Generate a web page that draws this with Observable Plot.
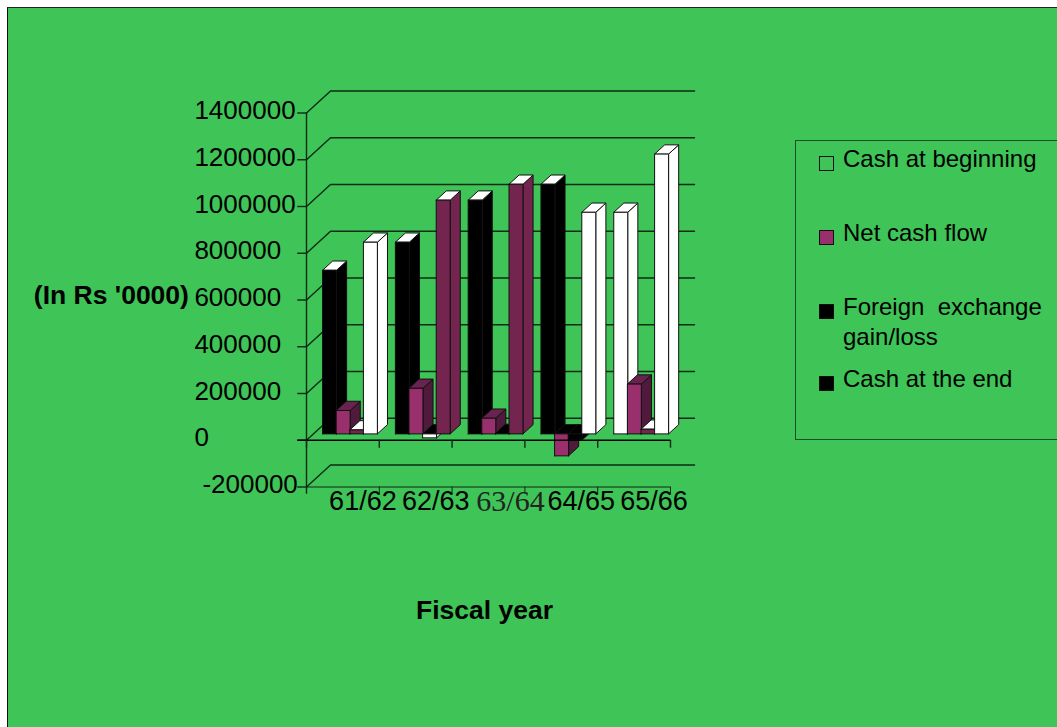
<!DOCTYPE html>
<html>
<head>
<meta charset="utf-8">
<script src="https://cdn.jsdelivr.net/npm/d3@7"></script>
<script src="https://cdn.jsdelivr.net/npm/@observablehq/plot@0.6"></script>
<style>
  html, body { margin: 0; padding: 0; background: #fff; width: 1057px; height: 727px; overflow: hidden; }
  #panel { position: absolute; left: 7px; top: 7px; right: 0; bottom: 0; background: #3ec457;
           border-left: 1.5px solid #111; border-top: 1.5px solid #222; }
  #chart { position: absolute; left: 0; top: 0; }
  #legend { position: absolute; left: 795px; top: 140px; width: 270px; height: 298px;
            border: 1px solid #1d4a28; font: 24px "Liberation Sans", Arial, sans-serif; color: #000; }
  #legend .entry { position: absolute; left: 47px; white-space: pre; line-height: 30px; }
  #legend .swatch { position: absolute; left: 23px; width: 15px; height: 15px; box-sizing: border-box; border: 1px solid #111; }
</style>
</head>
<body>
<div id="panel"></div>
<div id="chart"></div>
<div id="legend"></div>
<script>
// Fiscal years and cash-flow statement rows, in Rs '0000
const years = ["61/62", "62/63", "63/64", "64/65", "65/66"];
const cashBeginning = [700000, 820000, 1000000, 1068000, 948000];
const netCashFlow = [100000, 195000, 67000, -94000, 213000];
const foreignExchange = [17000, -17000, 2000, -26000, 20000];
const cashEnd = [820000, 1000000, 1068000, 948000, 1197000];
const yTicks = [-200000, 0, 200000, 400000, 600000, 800000, 1000000, 1200000, 1400000];

const legendLabels = ["Cash at beginning", "Net cash flow", "Foreign  exchange\ngain/loss", "Cash at the end"];

// Per-point face colours for each series
const K = "#000000", W = "#ffffff", M = "#99306d", D = "#73254f", S = "#4f1a3b", T = "#6a2250";
const frontColors = [[K, K, K, K, W], [M, M, M, M, M], [D, W, K, K, D], [W, D, D, W, W]];
const topColors = [[W, W, W, W, W], [T, T, T, K, T], [W, K, K, K, W], [W, W, W, W, W]];
const sideColors = [[K, K, K, K, W], [S, S, S, S, S], [D, W, K, K, D], [W, D, D, W, W]];
const series = [cashBeginning, netCashFlow, foreignExchange, cashEnd];

// Oblique projection: depth runs from 0 (front wall) to 1 (back wall)
const depthX = 0.33;
const depthY = 94000;
const project = (cat, value, depth) => ({x: cat + depth * depthX, y: value + depth * depthY});

const barStart = 0.125;
const barWidth = 0.192;
const barPitch = 0.187;
const barDepthFront = 0.29;
const barDepthBack = 0.71;

const facePoints = [];
let faceId = 0;
function addFace(corners, fill) {
  const id = faceId++;
  for (const c of [...corners, corners[0]]) facePoints.push({...c, id, fill});
}

// Painter's order: left to right, so nearer neighbours overlap correctly
years.forEach((_, g) => {
  series.forEach((values, s) => {
    const x0 = g + barStart + s * barPitch;
    const x1 = x0 + barWidth;
    const hi = Math.max(values[g], 0);
    const lo = Math.min(values[g], 0);
    addFace([project(x1, lo, barDepthFront), project(x1, lo, barDepthBack), project(x1, hi, barDepthBack), project(x1, hi, barDepthFront)], sideColors[s][g]);
    addFace([project(x0, hi, barDepthFront), project(x1, hi, barDepthFront), project(x1, hi, barDepthBack), project(x0, hi, barDepthBack)], topColors[s][g]);
    addFace([project(x0, lo, barDepthFront), project(x1, lo, barDepthFront), project(x1, hi, barDepthFront), project(x0, hi, barDepthFront)], frontColors[s][g]);
  });
});

// Wall gridlines: a diagonal from the axis, then along the back wall
const gridPoints = yTicks.flatMap((v) => [
  {v, ...project(0, v, 0)},
  {v, ...project(0, v, 1)},
  {v, ...project(5, v, 1)}
]);

const cats = d3.range(years.length + 1);
const sansFont = "'Liberation Sans', Arial, sans-serif";
const serifFont = "'Liberation Serif', 'Times New Roman', serif";
const tickLabelX = (v) => (v < 0 ? -1.43 : -1.54);
const lineColor = "#0f2a16";

const chart = Plot.plot({
  width: 1057,
  height: 727,
  margin: 0,
  style: {background: "transparent", color: "#000", fontFamily: sansFont},
  x: {type: "linear", domain: [0, 5], range: [306, 670], axis: null},
  y: {type: "linear", domain: [-200000, 1400000], range: [486.5, 112.5], axis: null},
  color: {type: "identity"},
  marks: [
    Plot.line(gridPoints, {x: "x", y: "y", z: "v", stroke: lineColor, strokeWidth: 1.4, curve: "linear"}),
    Plot.ruleX([0], {y1: -230000, y2: 1400000, stroke: lineColor, strokeWidth: 1.4}),
    Plot.ruleY(yTicks, {x1: -0.12, x2: 0, stroke: lineColor, strokeWidth: 1.4}),
    Plot.ruleY([-200000], {x1: 0, x2: 5, stroke: lineColor, strokeWidth: 1}),
    Plot.ruleX(cats, {y1: -230000, y2: -200000, stroke: lineColor, strokeWidth: 1}),
    Plot.line(facePoints, {x: "x", y: "y", z: "id", fill: "fill", stroke: "#111", strokeWidth: 1, curve: "linear"}),
    Plot.ruleY([0], {x1: -0.12, x2: 5, stroke: "#000", strokeWidth: 1.4}),
    Plot.ruleX(cats, {y1: 0, y2: -34000, stroke: lineColor, strokeWidth: 1.4}),
    Plot.text(yTicks, {x: tickLabelX, y: (v) => v + 9000, text: (v) => String(v), textAnchor: "start", fontSize: 26, fill: "#000"}),
    Plot.text(years.filter((y) => y !== "63/64"), {
      x: (y) => years.indexOf(y) + 0.5, y: -260000, text: (y) => y, dx: 20, fontSize: 27, fill: "#000"
    }),
    Plot.text(["63/64"], {
      x: 2.5, y: -260000, text: (y) => y, dx: 22, fontSize: 30, fontFamily: serifFont, fill: "#222"
    }),
    Plot.text(["(In Rs '0000)"], {x: -2.68, y: 620000, text: (d) => d, textAnchor: "middle", fontSize: 26.5, fontWeight: "bold", fill: "#000"}),
    Plot.text(["Fiscal year"], {x: 2.445, y: -730000, text: (d) => d, textAnchor: "middle", fontSize: 26.5, fontWeight: "bold", fill: "#000"})
  ]
});
document.getElementById("chart").appendChild(chart);

// Legend box to the right of the plot
const legend = document.getElementById("legend");
const swatchFill = ["transparent", M, K, K];
const swatchTop = [15, 89, 163, 235];
const entryTop = [3, 77, 151, 223];
legendLabels.forEach((label, i) => {
  const swatch = document.createElement("div");
  swatch.className = "swatch";
  swatch.style.top = swatchTop[i] + "px";
  swatch.style.background = swatchFill[i];
  legend.appendChild(swatch);
  const entry = document.createElement("div");
  entry.className = "entry";
  entry.style.top = entryTop[i] + "px";
  entry.textContent = label;
  legend.appendChild(entry);
});
</script>
</body>
</html>
